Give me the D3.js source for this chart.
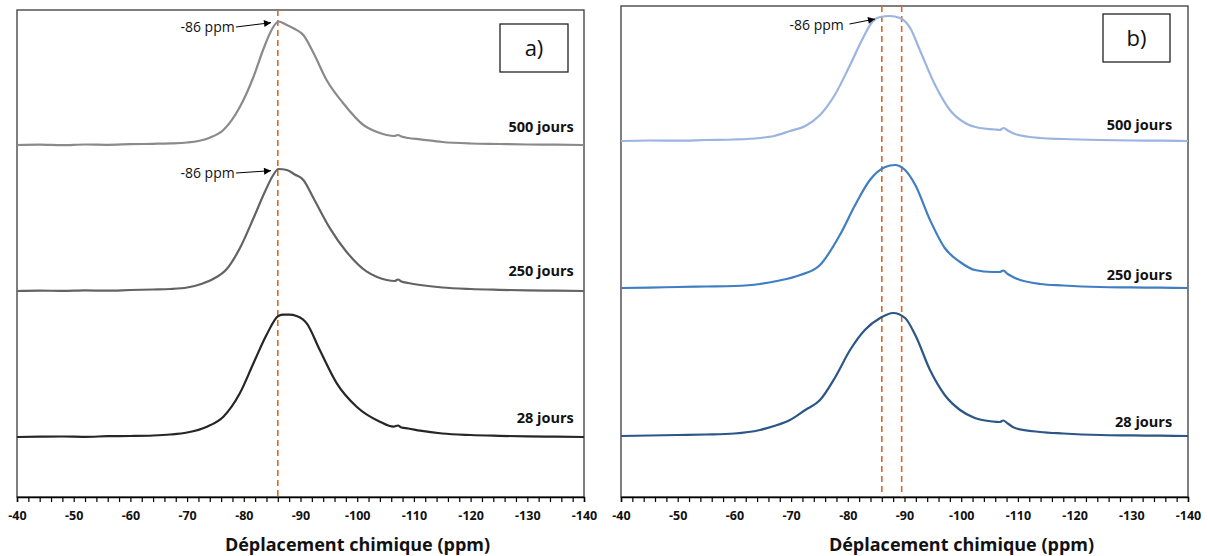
<!DOCTYPE html>
<html><head><meta charset="utf-8">
<script src="https://cdn.jsdelivr.net/npm/d3@7/dist/d3.min.js"></script>
<style>body{margin:0;background:#fff}svg{display:block}</style>
</head><body>
<svg id="c" width="1208" height="556"></svg>
<script>
// ---------- data ----------
const xTicks = [-40,-50,-60,-70,-80,-90,-100,-110,-120,-130,-140];
const seriesNames = ["500 jours","250 jours","28 jours"];
const panelLabels = ["a)","b)"];
const markerA = [-86];
const markerB = [-86,-89.5];
const annotText = "-86 ppm";
const xTitle = "Déplacement chimique (ppm)";

// panel a
const ppmA500 = [-40,-44,-48,-52,-56,-60,-64,-67,-70,-72,-74,-76.4,-79.3,-81.7,-83.4,-84.9,-86.1,-87.6,-89,-90.5,-92.3,-94.6,-97.5,-101.1,-103.5,-105.2,-106.5,-107.2,-107.8,-109,-111.1,-115,-120,-125,-130,-135,-140];
const intA500 = [0,0.3,-0.2,0.5,0.2,0.8,1.2,1.6,2.5,4,7.3,15,38,68,95,115,123.5,120,116,110,92,65,42,20,13,10,9,10,8.5,7,5.7,3,1.5,1,0.5,0.3,0];
const ppmA250 = [-40,-44,-48,-52,-56,-60,-64,-67,-70,-72.5,-74.6,-77,-79.3,-81.7,-83.7,-85.2,-86.1,-87.6,-89,-90.5,-92.3,-95.2,-98.1,-101.7,-103.5,-105.2,-106.6,-107.2,-107.8,-109,-111.1,-115,-120,-125,-130,-135,-140];
const intA250 = [0,0.4,0.1,0.6,0.3,1,1.5,2,3.5,7,12,22,42.7,72.7,99,116,122,121,116.5,111,92.7,62.7,39.3,19.3,14,11,10,11.5,9.5,8,6,3.5,2,1.2,0.6,0.3,0];
const ppmA28 = [-40,-44,-48,-52,-56,-60,-64,-67,-70,-73.5,-76.4,-79.3,-81.7,-84,-86.1,-87,-88,-89.3,-91.1,-93.4,-96.4,-99.9,-104,-106.4,-107.2,-107.8,-109,-111.1,-115,-120,-125,-130,-135,-140];
const intA28 = [0,0.3,0.5,0.2,0.8,1,1.5,2.5,4.5,10.3,20.3,43.7,73.7,102,121,122.3,122.3,121,113.7,87,53.7,30.3,15.3,10.3,11.5,9.5,8.5,6.3,3.5,2,1.2,0.6,0.3,0];
const offsetsA = [352,206,60];

// panel b
const ppmB500 = [-40,-45,-50,-55,-60,-64.5,-67,-69.8,-72.5,-75.1,-77.7,-80.4,-82.5,-84.3,-85.7,-87.4,-89.2,-91,-92.7,-95.4,-98,-100.7,-103.3,-106,-106.8,-107.5,-108.2,-109.5,-113.9,-118,-124.5,-130,-135,-140];
const intB500 = [0,0.5,0.3,1,1.5,3,5,10,15,26,46,76,101,119,124,125,123,113,91,56,31,18,13,11.5,11,13,10.5,7,3,2,1,0.5,0.3,0];
const ppmB250 = [-40,-45,-50,-55,-60,-64.5,-67.5,-71.6,-75.1,-78.6,-81.3,-83.9,-86.6,-88.3,-90.1,-91.9,-94.5,-97.1,-99.8,-102.4,-105.5,-106.8,-107.4,-108.2,-109.5,-113.9,-118,-124.5,-130,-135,-140];
const intB250 = [0,0.4,1,1.5,2,4,7,13,23,53,83,108,121,123,118,103,68,40,26,18,16,16,17.5,14,10,4,2.5,1,0.6,0.3,0];
const ppmB28 = [-40,-45,-50,-55,-60,-64.5,-67,-69.8,-72.5,-75.1,-77.7,-80.4,-83,-85.7,-88,-90.1,-91.9,-94.5,-97.1,-99.8,-102.4,-105.5,-106.8,-107.4,-108.2,-109.5,-113.9,-118,-124.5,-130,-135,-140];
const intB28 = [0,0.5,1,1.5,2.5,6,10,16,26,36,58,86,106,118,123,118,101,66,41,26,18,14.5,14,15.5,12.5,8,4,2.5,1,0.6,0.3,0];
const offsetsB = [356,209,61];

const colorsA = ["#8a8a8a","#636363","#262626"];
const colorsB = ["#9bb4e0","#3f7ec2","#2c5686"];

// ---------- drawing ----------
const svg = d3.select("#c");
const FONT = "'Open Sans', 'Liberation Sans', sans-serif";
const defs = svg.append("defs");
defs.append("marker").attr("id","arr").attr("viewBox","0 0 10 10")
  .attr("refX",10).attr("refY",5).attr("markerWidth",8).attr("markerHeight",7)
  .attr("markerUnits","userSpaceOnUse").attr("orient","auto")
  .append("path").attr("d","M0,0 L10,5 L0,10 Z").attr("fill","#000");

function panel(cfg){
  const x = d3.scaleLinear().domain([-40,-140]).range([cfg.x0,cfg.x1]);
  const y = d3.scaleLinear().domain([0, 497-cfg.top]).range([497, cfg.top]);
  const g = svg.append("g");

  g.append("rect").attr("x",cfg.x0).attr("y",cfg.top)
    .attr("width",cfg.x1-cfg.x0).attr("height",497-cfg.top)
    .attr("fill","none").attr("stroke","#3a3a3a").attr("stroke-width",1.3);

  const minor = d3.range(-40,-141,-2);
  const ax = g.append("g").attr("transform",`translate(0,497)`)
    .call(d3.axisBottom(x).tickValues(minor).tickSize(5).tickFormat(""));
  ax.select(".domain").attr("stroke","#000").attr("stroke-width",1.5);
  ax.selectAll(".tick line").attr("stroke","#000").attr("stroke-width",1.2);
  const ax2 = g.append("g").attr("transform",`translate(0,497)`)
    .call(d3.axisBottom(x).tickValues(xTicks).tickSize(0).tickPadding(14).tickFormat(d=>d));
  ax2.select(".domain").remove();
  ax2.selectAll("text").attr("font-family",FONT).attr("font-size",12.5)
    .attr("font-weight",700).attr("fill","#111");

  g.append("text").attr("x",(cfg.x0+cfg.x1)/2+57).attr("y",551)
    .attr("text-anchor","middle").attr("font-family",FONT).attr("font-size",18)
    .attr("font-weight",700).attr("fill","#111").text(xTitle);

  cfg.markers.forEach(m=>{
    g.append("line").attr("x1",x(m)).attr("x2",x(m)).attr("y1",cfg.top).attr("y2",497)
      .attr("stroke","#d9692a").attr("stroke-width",1.6).attr("stroke-dasharray","6,4");
  });

  const line = d3.line().curve(d3.curveMonotoneX);
  cfg.series.forEach((s,i)=>{
    const pts = s.ppm.map((p,k)=>[x(p), y(s.int[k]+s.off)]);
    g.append("path").attr("d",line(pts)).attr("fill","none")
      .attr("stroke",s.color).attr("stroke-width",2.2).attr("stroke-linejoin","round");
    g.append("text").attr("x",x(cfg.labelPpm)).attr("y",y(s.off+cfg.labelDy[i]))
      .attr("text-anchor","end").attr("font-family",FONT).attr("font-size",14.5)
      .attr("font-weight",700).attr("fill","#111").text(seriesNames[i]);
  });

  cfg.annots.forEach(a=>{
    const s = cfg.series[a.si];
    const tx = x(a.tppm), ty = y(s.off + a.th);
    g.append("text").attr("x",tx).attr("y",ty+5).attr("text-anchor","end")
      .attr("font-family",FONT).attr("font-size",14).attr("fill","#111").text(annotText);
    g.append("line").attr("x1",x(a.sppm)).attr("y1",y(s.off+a.sh)).attr("x2",x(a.pppm)).attr("y2",y(s.off+a.ph))
      .attr("stroke","#000").attr("stroke-width",1).attr("marker-end","url(#arr)");
  });

  g.append("rect").attr("x",cfg.box[0]).attr("y",cfg.box[1]).attr("width",cfg.box[2]).attr("height",cfg.box[3])
    .attr("fill","#fff").attr("stroke","#222").attr("stroke-width",1.3);
  g.append("text").attr("x",cfg.box[0]+cfg.box[2]/2).attr("y",cfg.box[1]+cfg.box[3]/2+8)
    .attr("text-anchor","middle").attr("font-family",FONT).attr("font-size",22)
    .attr("fill","#111").text(cfg.label);
}

panel({
  x0:17, x1:584, top:10, markers:markerA, label:panelLabels[0], box:[500,24,68,48],
  series:[
    {ppm:ppmA500,int:intA500,off:offsetsA[0],color:colorsA[0]},
    {ppm:ppmA250,int:intA250,off:offsetsA[1],color:colorsA[1]},
    {ppm:ppmA28,int:intA28,off:offsetsA[2],color:colorsA[2]}],
  labelPpm:-138.2, labelDy:[13,15,14],
  annots:[{si:0,tppm:-78.4,th:118,sppm:-78.6,sh:118,pppm:-84.8,ph:122.3},
          {si:1,tppm:-78.4,th:118,sppm:-78.6,sh:118,pppm:-84.8,ph:120.3}]
});
panel({
  x0:621, x1:1188, top:6, markers:markerB, label:panelLabels[1], box:[1103,14,67,48],
  series:[
    {ppm:ppmB500,int:intB500,off:offsetsB[0],color:colorsB[0]},
    {ppm:ppmB250,int:intB250,off:offsetsB[1],color:colorsB[1]},
    {ppm:ppmB28,int:intB28,off:offsetsB[2],color:colorsB[2]}],
  labelPpm:-137.2, labelDy:[11,8,9],
  annots:[{si:0,tppm:-79.3,th:116,sppm:-80.3,sh:117,pppm:-84.8,ph:122}]
});
</script>
</body></html>
